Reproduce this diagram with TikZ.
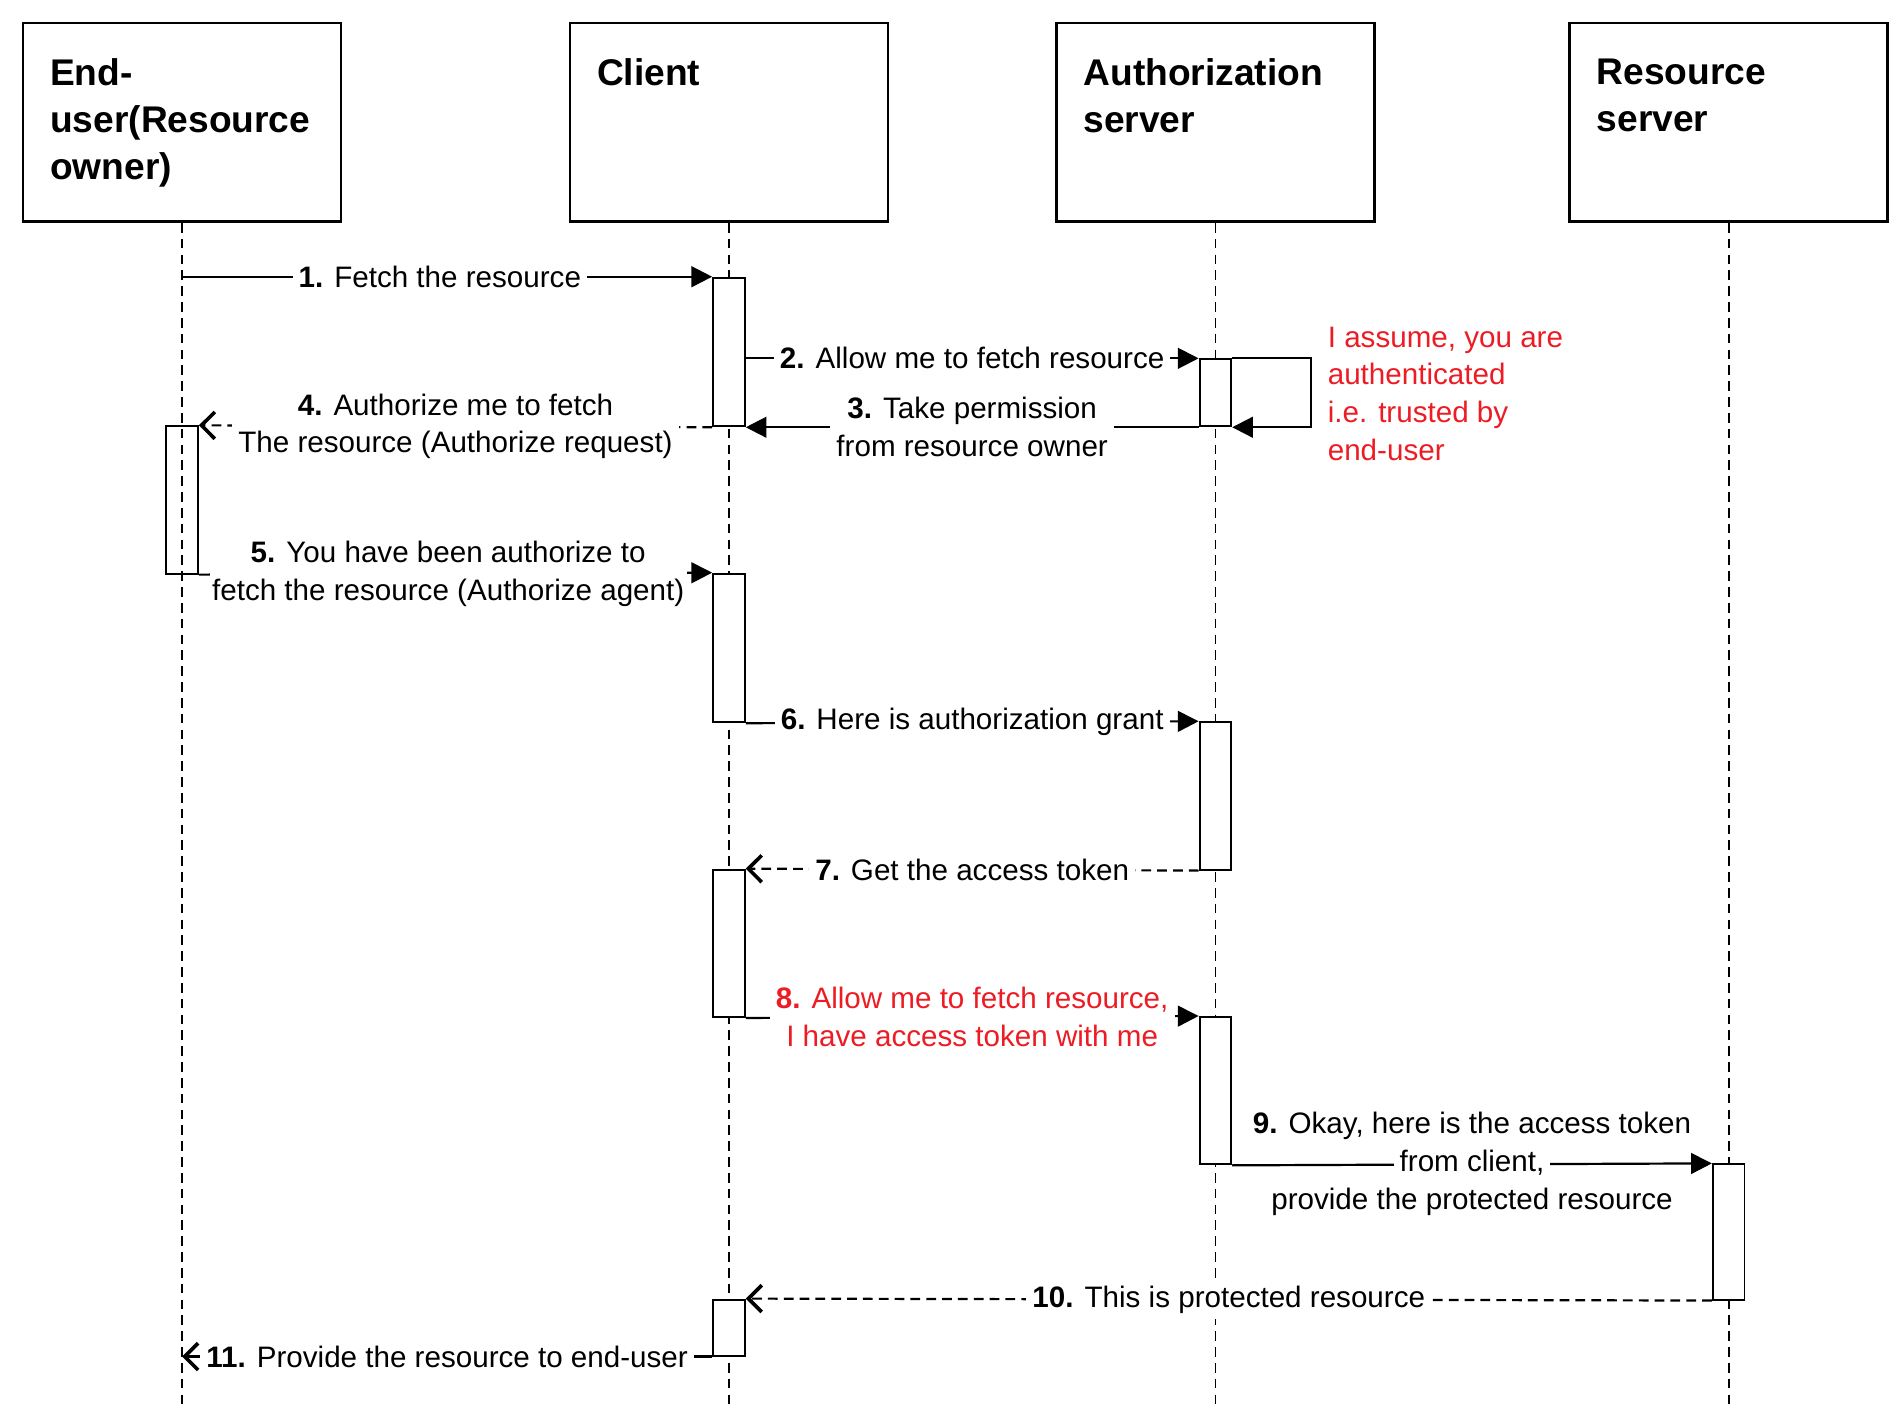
\documentclass[tikz,border=0pt]{standalone}
\usepackage{fontspec}
\setmainfont{Liberation Sans}
\usetikzlibrary{arrows.meta,positioning}
\definecolor{notered}{RGB}{237,28,36}

\tikzset{
  actor/.style={draw, line width=2pt, minimum width=261pt, minimum height=163pt, inner sep=0pt},
  headtext/.style={align=left, inner sep=0pt, font=\fontsize{30.5}{38.5}\selectfont\bfseries},
  lifeline/.style={line width=1.4pt, dash pattern=on 8pt off 5pt},
  actbar/.style={draw, fill=white, line width=1.6pt, minimum width=26pt, inner sep=0pt},
  sync/.style={line width=1.8pt, -{Triangle[length=17pt,width=17pt]}},
  openhead/.style={-{Straight Barb[length=11pt,width=22pt,line width=3pt]}},
  reply/.style={line width=1.8pt, dash pattern=on 8pt off 5pt, openhead},
  msg/.style={midway, fill=white, align=center, inner sep=5pt, font=\fontsize{24.3}{31}\selectfont},
  msgtext/.style={align=center, inner sep=5pt, text height=17pt, text depth=5pt,
                  font=\fontsize{24.3}{31}\selectfont},
  note/.style={align=left, inner sep=0pt, text=notered, font=\fontsize{24.3}{31}\selectfont},
}

\begin{document}
\begin{tikzpicture}[x=1pt,y=-1pt]
\useasboundingbox (0,0) rectangle (1560,1166.7);

% actors
\node [actor] (eu) at (149.5,100.5) {};
\node [actor] (cl) [right=186pt of eu] {};
\node [actor] (as) [right=136.4pt of cl] {};
\node [actor] (rs) [right=158.4pt of as] {};
\node [headtext, below right=30pt and 23pt of eu.north west] (eu-t) {End-\\user(Resource\\owner)};
\node [headtext, below right=30pt and 23pt of cl.north west] (cl-t) {Client};
\node [headtext, below right=30pt and 23pt of as.north west] (as-t) {Authorization\\server};
\node [headtext, below right=30pt and 23pt of rs.north west] (rs-t) {Resource\\server};

% lifelines
\foreach \a in {eu,cl,as,rs}
  \draw [lifeline] (\a.south) -- (\a.south |- 0,1153);

% activation bars
\node [actbar, minimum height=122pt] (c1) at (cl.south |- 0,289) {};
\node [actbar, minimum height=55pt]  (a1) at (as.south |- 0,322.5) {};
\node [actbar, fill=none, minimum height=121pt] (u1) at (eu.south |- 0,410.5) {};
\node [actbar, minimum height=122pt] (c2) at (cl.south |- 0,532) {};
\node [actbar, minimum height=121pt] (a2) at (as.south |- 0,653.5) {};
\node [actbar, minimum height=121pt] (c3) at (cl.south |- 0,774.5) {};
\node [actbar, minimum height=121pt] (a3) at (as.south |- 0,895.5) {};
\node [actbar, minimum height=111pt] (r1) at (rs.south |- 0,1011.5) {};
\node [actbar, minimum height=46pt]  (c4) at (cl.south |- 0,1090) {};

% messages
\draw [sync] (eu.south |- c1.north) -- (c1.north west)
  node [msg, xshift=-6pt] (m1) {\textbf{1.} Fetch the resource};
\draw [sync] (c1.east |- a1.north) -- (a1.north west)
  node [msg] (m2) {\textbf{2.} Allow me to fetch resource};
\draw [sync] (a1.north east) -- ++(65,0) |- (a1.south east);
\draw [sync] (a1.south west) -- (c1.south east)
  node [msg] (m3) {\textbf{3.} Take permission\\from resource owner};
\draw [reply] (c1.south west) -- (u1.north east)
  node [msg] (m4) {\textbf{4.} Authorize me to fetch\\The resource (Authorize request)};
\draw [sync] (u1.south east) -- (c2.north west)
  node [msg, inner sep=2pt, xshift=-6pt] (m5) {\textbf{5.} You have been authorize to\\fetch the resource (Authorize agent)};
\draw [sync] (c2.south east) -- (a2.north west)
  node [msg] (m6) {\textbf{6.} Here is authorization grant};
\draw [reply] (a2.south west) -- (c3.north east)
  node [msg] (m7) {\textbf{7.} Get the access token};
\draw [sync] (c3.south east) -- (a3.north west)
  node [msg, text=notered] (m8) {\textbf{8.} Allow me to fetch resource,\\I have access token with me};
\draw [sync] (a3.south east) -- (r1.north west)
  node [msg, msgtext] (m9) {from client,};
\node [msgtext] (m9-top) at (m9) [yshift=31pt] {\textbf{9.} Okay, here is the access token};
\node [msgtext] (m9-bot) at (m9) [yshift=-31pt] {provide the protected resource};
\draw [reply] (r1.south west) -- (c4.north east)
  node [msg] (m10) {\textbf{10.} This is protected resource};
\draw [sync, openhead] (c4.south west) -- (eu.south |- c4.south)
  node [msg] (m11) {\textbf{11.} Provide the resource to end-user};

% note on the self call
\node [note, anchor=north west] (trust) at (1090,268) {I assume, you are\\authenticated\\i.e. trusted by\\end-user};

\end{tikzpicture}
\end{document}
